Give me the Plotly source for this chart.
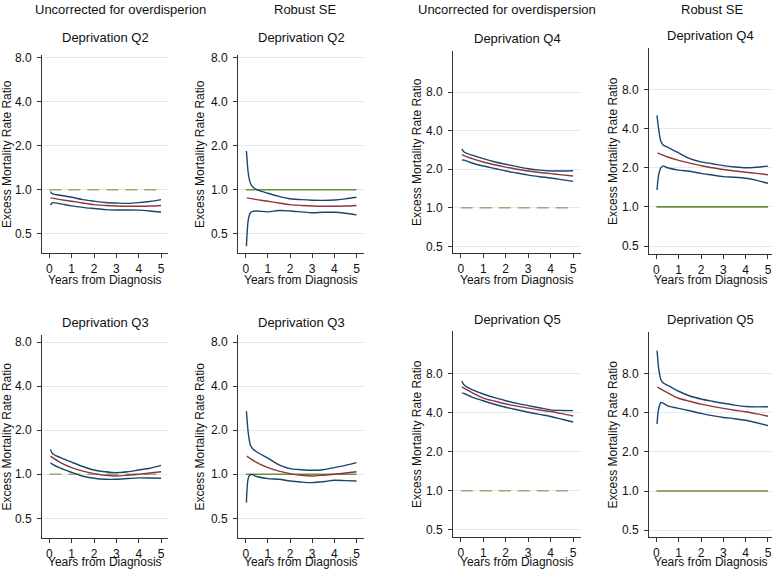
import plotly.graph_objects as go
import math

# ---------------- data ----------------
T_EST = [0.05, 0.5, 1, 1.5, 2, 2.5, 3, 3.5, 4, 4.5, 5]
T_UNC = [0.05, 0.15, 0.5, 1, 1.5, 2, 2.5, 3, 3.5, 4, 4.5, 5]
T_ROB = [0.03, 0.06, 0.1, 0.15, 0.2, 0.3, 0.5, 1, 1.5, 2, 2.5, 3, 3.5, 4, 4.5, 5]

# Deprivation Q2
q2_est = [0.878, 0.855, 0.833, 0.81, 0.79, 0.78, 0.773, 0.77, 0.77, 0.773, 0.78]
q2_unc_hi = [0.97, 0.935, 0.915, 0.887, 0.855, 0.835, 0.818, 0.81, 0.806, 0.815, 0.83, 0.855]
q2_unc_lo = [0.785, 0.815, 0.80, 0.775, 0.757, 0.743, 0.73, 0.726, 0.726, 0.724, 0.715, 0.70]
q2_rob_hi = [1.84, 1.6, 1.35, 1.2, 1.12, 1.05, 1.0, 0.945, 0.9, 0.866, 0.855, 0.847, 0.845, 0.85, 0.865, 0.887]
q2_rob_lo = [0.41, 0.5, 0.6, 0.66, 0.69, 0.71, 0.715, 0.705, 0.72, 0.715, 0.705, 0.695, 0.70, 0.70, 0.69, 0.672]

# Deprivation Q3
q3_est = [1.33, 1.2, 1.11, 1.05, 1.01, 0.985, 0.974, 0.985, 1.0, 1.02, 1.04]
q3_unc_hi = [1.48, 1.38, 1.3, 1.21, 1.13, 1.07, 1.04, 1.026, 1.04, 1.07, 1.1, 1.15]
q3_unc_lo = [1.2, 1.17, 1.1, 1.03, 0.97, 0.94, 0.925, 0.925, 0.935, 0.945, 0.943, 0.94]
q3_rob_hi = [2.7, 2.35, 2.0, 1.75, 1.6, 1.5, 1.42, 1.29, 1.16, 1.093, 1.075, 1.065, 1.075, 1.11, 1.15, 1.2]
q3_rob_lo = [0.64, 0.8, 0.92, 0.97, 0.99, 0.995, 0.965, 0.934, 0.925, 0.9, 0.885, 0.877, 0.89, 0.91, 0.905, 0.9]

# Deprivation Q4
q4_est = [2.6, 2.42, 2.28, 2.17, 2.08, 2.0, 1.94, 1.89, 1.85, 1.81, 1.77]
q4_unc_hi = [2.89, 2.73, 2.58, 2.42, 2.29, 2.19, 2.1, 2.02, 1.97, 1.94, 1.94, 1.95]
q4_unc_lo = [2.36, 2.36, 2.24, 2.12, 2.03, 1.94, 1.87, 1.8, 1.75, 1.71, 1.66, 1.61]
q4_rob_hi = [5.06, 4.5, 4.0, 3.5, 3.2, 3.0, 2.88, 2.6, 2.35, 2.22, 2.15, 2.08, 2.03, 2.0, 2.02, 2.06]
q4_rob_lo = [1.35, 1.55, 1.76, 1.9, 2.0, 2.07, 2.0, 1.92, 1.88, 1.81, 1.76, 1.71, 1.69, 1.66, 1.6, 1.52]

# Deprivation Q5
q5_est = [6.3, 5.7, 5.17, 4.9, 4.66, 4.48, 4.32, 4.18, 4.07, 3.92, 3.76]
q5_unc_hi = [7.0, 6.5, 6.0, 5.55, 5.2, 4.93, 4.7, 4.52, 4.35, 4.19, 4.15, 4.14]
q5_unc_lo = [5.67, 5.6, 5.25, 4.93, 4.63, 4.39, 4.2, 4.02, 3.87, 3.73, 3.55, 3.38]
q5_rob_hi = [12.0, 10.5, 8.84, 7.8, 7.2, 6.8, 6.5, 5.85, 5.38, 5.1, 4.9, 4.73, 4.58, 4.47, 4.44, 4.45]
q5_rob_lo = [3.28, 3.8, 4.27, 4.6, 4.8, 4.75, 4.52, 4.32, 4.14, 3.95, 3.8, 3.68, 3.6, 3.5, 3.35, 3.18]

REF_X = [0, 5]
REF_Y = [1, 1]

Y_TICKS = [0.5, 1, 2, 4, 8]
Y_TICKTEXT = ["0.5", "1.0", "2.0", "4.0", "8.0"]
X_TICKS = [0, 1, 2, 3, 4, 5]

HEADERS = ["Uncorrected for overdisperion", "Robust SE", "Uncorrected for overdispersion", "Robust SE"]
Y_TITLE = "Excess Mortality Rate Ratio"
X_TITLE = "Years from Diagnosis"

# ---------------- layout geometry (pixels) ----------------
W, H = 777, 570
NAVY = "#1a476f"
MAROON = "#90353b"
GREEN = "#6a8f3c"
GREEN_D = "#93b06f"
FONT = "Liberation Sans, Arial, sans-serif"
TXT = "#111111"

# each panel: (title, est, t_ci, hi, lo, robust, xdom_px, ydom_px, log2 range, xrange, title_y, ytitle_x)
panels = [
    ("Deprivation Q2", q2_est, T_UNC, q2_unc_hi, q2_unc_lo, False, (42, 168), (51, 251), (-1.445, 3.07), (-0.327, 5.31), 34, 7),
    ("Deprivation Q2", q2_est, T_ROB, q2_rob_hi, q2_rob_lo, True, (238, 364), (51, 251), (-1.445, 3.07), (-0.35, 5.34), 34, 200),
    ("Deprivation Q4", q4_est, T_UNC, q4_unc_hi, q4_unc_lo, False, (453, 581), (47, 251), (-1.18, 4.08), (-0.345, 5.35), 35, 417),
    ("Deprivation Q4", q4_est, T_ROB, q4_rob_hi, q4_rob_lo, True, (649, 772), (44, 252), (-1.21, 4.07), (-0.33, 5.18), 32, 613),
    ("Deprivation Q3", q3_est, T_UNC, q3_unc_hi, q3_unc_lo, False, (42, 168), (333, 538), (-1.452, 3.17), (-0.327, 5.31), 321, 7),
    ("Deprivation Q3", q3_est, T_ROB, q3_rob_hi, q3_rob_lo, True, (238, 364), (333, 538), (-1.452, 3.17), (-0.35, 5.34), 321, 200),
    ("Deprivation Q5", q5_est, T_UNC, q5_unc_hi, q5_unc_lo, False, (453, 581), (329, 537), (-1.185, 4.09), (-0.345, 5.35), 318, 417),
    ("Deprivation Q5", q5_est, T_ROB, q5_rob_hi, q5_rob_lo, True, (649, 772), (330, 537), (-1.18, 4.07), (-0.33, 5.18), 318, 613),
]

fig = go.Figure()
annotations = []
layout_axes = {}

def px_x(v):
    return v / W

def px_y(v):
    return 1 - v / H

for i, (title, est, tci, hi, lo, robust, xd, yd, yr, xr, ty, ytx) in enumerate(panels):
    n = i + 1
    xa = "x" if n == 1 else f"x{n}"
    ya = "y" if n == 1 else f"y{n}"
    # reference line
    fig.add_trace(go.Scatter(
        x=REF_X, y=REF_Y, mode="lines", xaxis=xa, yaxis=ya,
        line=dict(color=GREEN if robust else GREEN_D, width=1.6 if robust else 1.5,
                  dash="solid" if robust else "12px,7px"),
        showlegend=False, hoverinfo="skip"))
    for ci in (hi, lo):
        fig.add_trace(go.Scatter(
            x=tci, y=ci, mode="lines", xaxis=xa, yaxis=ya,
            line=dict(color=NAVY, width=1.4, shape="spline", smoothing=0.8),
            showlegend=False))
    fig.add_trace(go.Scatter(
        x=T_EST, y=est, mode="lines", xaxis=xa, yaxis=ya,
        line=dict(color=MAROON, width=1.4, shape="spline", smoothing=0.8),
        showlegend=False))

    xkey = "xaxis" if n == 1 else f"xaxis{n}"
    ykey = "yaxis" if n == 1 else f"yaxis{n}"
    layout_axes[xkey] = dict(
        domain=[px_x(xd[0]), px_x(xd[1])], anchor=ya, range=list(xr),
        tickvals=X_TICKS, ticks="outside", ticklen=4, tickcolor="#333",
        showline=True, linecolor="#333", linewidth=1, showgrid=False, zeroline=False,
        tickfont=dict(family=FONT, size=12, color=TXT))
    layout_axes[ykey] = dict(
        domain=[px_y(yd[1]), px_y(yd[0])], anchor=xa, type="log",
        range=[yr[0] * math.log10(2), yr[1] * math.log10(2)],
        tickvals=Y_TICKS, ticktext=Y_TICKTEXT, ticks="outside", ticklen=4, tickcolor="#333",
        ticklabelstandoff=3,
        showline=True, linecolor="#333", linewidth=1, showgrid=True,
        gridcolor="#e2ecf0", gridwidth=1, zeroline=False,
        tickfont=dict(family=FONT, size=12, color=TXT))

    xc = (xd[0] + xd[1]) / 2
    yc = (yd[0] + yd[1]) / 2
    annotations.append(dict(text=title, x=px_x(xc), y=px_y(ty), xref="paper", yref="paper",
                            showarrow=False, xanchor="center", yanchor="middle",
                            font=dict(family=FONT, size=13, color=TXT)))
    annotations.append(dict(text=Y_TITLE, x=px_x(ytx), y=px_y(yc), xref="paper", yref="paper",
                            showarrow=False, xanchor="center", yanchor="middle", textangle=-90,
                            font=dict(family=FONT, size=12, color=TXT)))
    xt_y = 278 if yd[0] < 200 else 562
    annotations.append(dict(text=X_TITLE, x=px_x(xc), y=px_y(xt_y), xref="paper", yref="paper",
                            showarrow=False, xanchor="center", yanchor="middle",
                            font=dict(family=FONT, size=12, color=TXT)))

header_x = [120, 305, 507, 712]
for hx, htxt in zip(header_x, HEADERS):
    annotations.append(dict(text=htxt, x=px_x(hx), y=px_y(6), xref="paper", yref="paper",
                            showarrow=False, xanchor="center", yanchor="middle",
                            font=dict(family=FONT, size=13, color=TXT)))

fig.update_layout(
    width=W, height=H, autosize=False,
    margin=dict(l=0, r=0, t=0, b=0),
    paper_bgcolor="white", plot_bgcolor="white",
    showlegend=False,
    annotations=annotations,
    **layout_axes,
)

fig.write_html(
    "out.html",
    config={"displayModeBar": False},
    post_script="document.body.style.margin='0px';document.body.style.padding='0px';document.body.style.overflow='hidden';",
)
